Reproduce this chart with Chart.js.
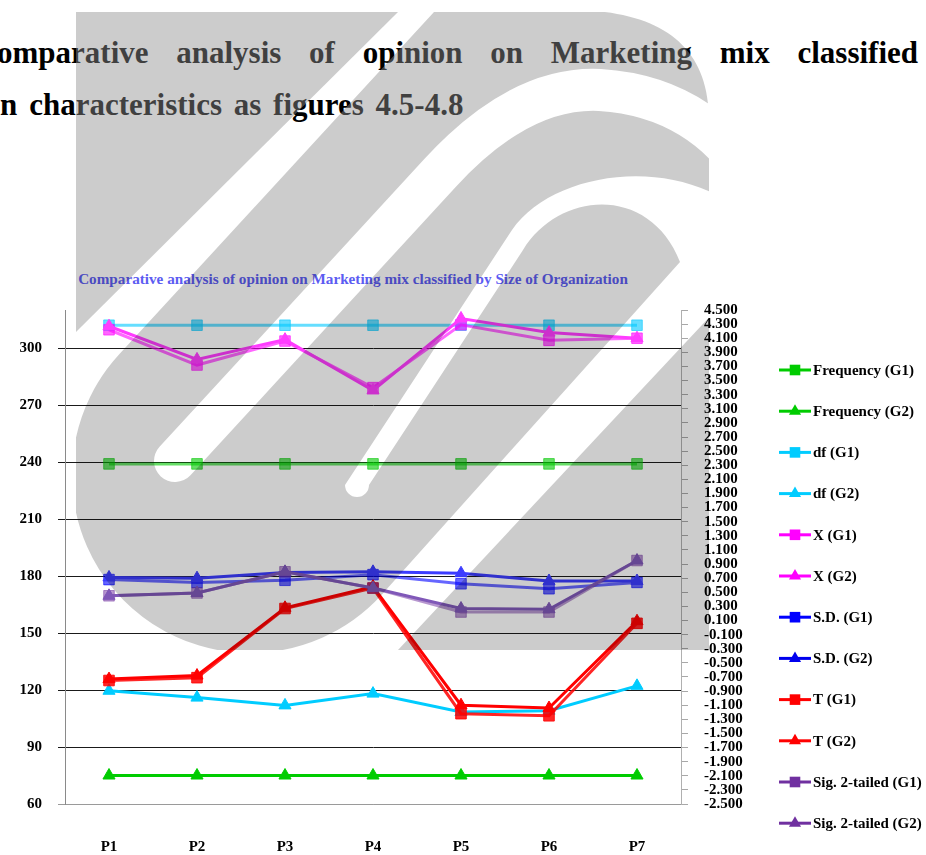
<!DOCTYPE html>
<html>
<head>
<meta charset="utf-8">
<script src="https://cdn.jsdelivr.net/npm/chart.js@4.4.1/dist/chart.umd.min.js"></script>
<style>
  html, body { margin: 0; padding: 0; background: #fff; }
  #page { position: relative; width: 926px; height: 855px; overflow: hidden; background: #fff; }
  .head { position: absolute; font-family: "Liberation Serif", "Times New Roman", serif; font-weight: bold;
          font-size: 31px; line-height: 36px; color: #000; }
  #h1 { left: -3px; top: 35px; width: 921px; text-align: justify; text-align-last: justify; }
  #h2 { left: 0; top: 87px; white-space: nowrap; word-spacing: 4px; }
  #h2 .lead { margin-right: 12px; }
  #ctitle { position: absolute; left: 0; top: 271px; width: 706px; text-align: center;
            font-family: "Liberation Serif", "Times New Roman", serif; font-weight: bold; font-size: 15.2px;
            line-height: 15px; color: #5c5cf2; white-space: nowrap; }
  #chartBox { position: absolute; left: 0; top: 0; width: 926px; height: 855px; }
  svg.mark { position: absolute; left: 0; top: 0; pointer-events: none; }
</style>
</head>
<body>
<div id="page">
  <div id="h1" class="head">omparative analysis of opinion on Marketing mix classified</div>
  <div id="h2" class="head"><span class="lead">n</span>characteristics as figures 4.5-4.8</div>
  <div id="ctitle">Comparative analysis of opinion on Marketing mix classified by Size of Organization</div>
  <div id="chartBox"><canvas id="chart" width="926" height="855"></canvas></div>
</div>
<script>
// Categories and series values
const categories = ['P1', 'P2', 'P3', 'P4', 'P5', 'P6', 'P7'];
const seriesNames = ['Frequency (G1)', 'Frequency (G2)', 'df (G1)', 'df (G2)', 'X (G1)', 'X (G2)',
                     'S.D. (G1)', 'S.D. (G2)', 'T (G1)', 'T (G2)', 'Sig. 2-tailed (G1)', 'Sig. 2-tailed (G2)'];
const frequencyG1 = [239, 239, 239, 239, 239, 239, 239];
const frequencyG2 = [75, 75, 75, 75, 75, 75, 75];
const dfG1 = [312, 312, 312, 312, 312, 312, 312];
const dfG2 = [119.6, 116.0, 111.9, 118.1, 108.4, 109.1, 122.2];
const meanG1 = [4.22, 3.72, 4.06, 3.40, 4.29, 4.07, 4.10];
const meanG2 = [4.27, 3.80, 4.08, 3.36, 4.38, 4.18, 4.10];
const sdG1 = [0.68, 0.64, 0.67, 0.75, 0.62, 0.55, 0.64];
const sdG2 = [0.71, 0.70, 0.78, 0.79, 0.77, 0.66, 0.66];
const tG1 = [-0.75, -0.71, 0.27, 0.56, -1.22, -1.25, 0.06];
const tG2 = [-0.73, -0.68, 0.28, 0.58, -1.10, -1.14, 0.09];
const sigG1 = [0.45, 0.49, 0.79, 0.56, 0.22, 0.22, 0.95];
const sigG2 = [0.45, 0.49, 0.79, 0.56, 0.27, 0.26, 0.95];

// Left axis: 60 .. 300 step 30 (axis top at 320); right axis: -2.5 .. 4.5 step 0.2
const leftMin = 60, leftMax = 320, leftStep = 30, leftLastTick = 300;
const rightMin = -2.5, rightMax = 4.5, rightStep = 0.2;

const seriesValues = [frequencyG1, frequencyG2, dfG1, dfG2, meanG1, meanG2, sdG1, sdG2, tG1, tG2, sigG1, sigG2];
const seriesAxis = ['y', 'y', 'y', 'y', 'y1', 'y1', 'y1', 'y1', 'y1', 'y1', 'y1', 'y1'];
const lineColors = ['rgba(0,200,0,0.6)', '#00cc00', 'rgba(0,200,255,0.6)', '#00ccff',
                    'rgba(255,0,255,0.6)', '#ff3cff', 'rgba(0,0,255,0.6)', '#3c3cff',
                    'rgba(255,0,0,0.85)', '#ff0000', 'rgba(112,48,160,0.5)', '#8058b8'];
const keyColors = ['#00cc00', '#00cc00', '#00ccff', '#00ccff', '#ff00ff', '#ff00ff',
                   '#0000ff', '#0000ee', '#ff0000', '#ff0000', '#7030a0', '#7030a0'];

const serif = '"Liberation Serif", "Times New Roman", serif';
const isG1 = i => i % 2 === 0;

const datasets = seriesNames.map((name, i) => ({
  label: name,
  data: seriesValues[i],
  yAxisID: seriesAxis[i],
  borderColor: lineColors[i],
  backgroundColor: lineColors[i],
  pointBackgroundColor: lineColors[i],
  pointBorderColor: lineColors[i],
  borderWidth: 3,
  pointBorderWidth: 1,
  pointStyle: isG1(i) ? 'rect' : 'triangle',
  pointRadius: isG1(i) ? 7.5 : 7,
  tension: 0,
  order: -i
}));

// Side key: line with marker, then the series name
const sideKey = {
  id: 'sideKey',
  afterDraw(chart) {
    const ctx = chart.ctx;
    const area = chart.chartArea;
    const lineX0 = area.right + 98, lineX1 = area.right + 130, markX = area.right + 114;
    const textX = area.right + 132;
    const y0 = 370, step = 41.2;
    ctx.save();
    seriesNames.forEach((name, i) => {
      const y = y0 + i * step;
      ctx.strokeStyle = keyColors[i];
      ctx.fillStyle = keyColors[i];
      ctx.lineWidth = 3;
      ctx.beginPath();
      ctx.moveTo(lineX0, y);
      ctx.lineTo(lineX1, y);
      ctx.stroke();
      ctx.lineWidth = 1;
      Chart.helpers.drawPoint(ctx, { pointStyle: isG1(i) ? 'rect' : 'triangle', rotation: 0,
                                     radius: isG1(i) ? 7.5 : 7 }, markX, y);
      ctx.fillStyle = '#000';
      ctx.font = 'bold 15px ' + serif;
      ctx.textAlign = 'left';
      ctx.textBaseline = 'middle';
      ctx.fillText(name, textX, y + 1);
    });
    ctx.restore();
  }
};

const tickFont = { family: serif, size: 15, weight: 'bold' };

new Chart(document.getElementById('chart'), {
  type: 'line',
  data: { labels: categories, datasets },
  plugins: [sideKey],
  options: {
    responsive: false,
    animation: false,
    devicePixelRatio: 1,
    layout: { padding: { top: 310, left: 0, right: 0, bottom: 0 } },
    plugins: { legend: { display: false }, tooltip: { enabled: false }, title: { display: false } },
    scales: {
      x: {
        offset: true,
        grid: { display: false, drawTicks: false },
        border: { display: true, color: '#9a9a9a', width: 1 },
        ticks: { font: tickFont, color: '#000', padding: 34 },
        afterFit(s) { s.height = 51; }
      },
      y: {
        position: 'left',
        min: leftMin, max: leftMax,
        ticks: { stepSize: leftStep, font: tickFont, color: '#000', padding: 16 },
        afterBuildTicks(s) { s.ticks = s.ticks.filter(t => t.value <= leftLastTick); },
        grid: {
          color: c => (c.tick && c.tick.value === leftMin) ? '#9a9a9a' : '#1a1a1a',
          lineWidth: 1, tickLength: 7, drawTicks: true
        },
        border: { display: true, color: '#8a8a8a', width: 1 },
        afterFit(s) { s.width = 65; }
      },
      y1: {
        position: 'right',
        min: rightMin, max: rightMax,
        ticks: { stepSize: rightStep, autoSkip: false, font: tickFont, color: '#000', padding: 16,
                 callback: v => Number(v).toFixed(3) },
        grid: { drawOnChartArea: false, color: '#a8a8a8', tickLength: 7 },
        border: { display: true, color: '#b0b0b0', width: 1 },
        afterFit(s) { s.width = 245; }
      }
    }
  }
});

// Background emblem laid over the page: a diagonal band, a rounded loop whose inner
// channels wind round two nested arches, and a band entering from the lower right
function emblem(id, fill, opacity, y0, y1, blend) {
  const ns = 'http://www.w3.org/2000/svg';
  const svg = document.createElementNS(ns, 'svg');
  svg.setAttribute('class', 'mark');
  svg.setAttribute('width', '926');
  svg.setAttribute('height', '855');
  svg.setAttribute('viewBox', '0 0 926 855');
  if (blend) svg.style.mixBlendMode = blend;
  svg.innerHTML = `
    <defs>
      <clipPath id="${id}c"><rect x="76" y="12" width="633" height="638"/></clipPath>
      <clipPath id="${id}b"><rect x="0" y="${y0}" width="926" height="${y1 - y0}"/></clipPath>
      <mask id="${id}m" maskUnits="userSpaceOnUse" x="0" y="0" width="926" height="855">
        <rect width="926" height="855" fill="black"/>
        <g clip-path="url(#${id}c)">
          <polygon points="76,12 398,12 76,332" fill="white"/>
          <path d="M434,12 L119,354.5 A178,178 0 0 0 250,653 L709,653 L709,120 C709,45 660,10 570,10 Z" fill="white"/>
          <path d="M398,650 L772,250 C720,150 560,160 512,230 L345,485 A12,12 0 0 0 369,485 L523,250
                   C560,190 650,185 680,262 L381,595.5 A178,178 0 0 1 250,653 L250,700 L398,700 Z" fill="black"/>
          <path d="M175,461 L440,173 Q520,86 600,90 Q680,95 730,150" stroke="black" stroke-width="42"
                stroke-linecap="round" fill="none"/>
        </g>
      </mask>
    </defs>
    <rect width="926" height="855" fill="${fill}" fill-opacity="${opacity}"
          mask="url(#${id}m)" clip-path="url(#${id}b)"/>`;
  document.getElementById('page').appendChild(svg);
}
emblem('wmTop', 'rgb(142,142,142)', 0.45, 0, 135, null);
emblem('wmLow', '#cccccc', 1, 135, 855, 'multiply');
</script>
</body>
</html>
